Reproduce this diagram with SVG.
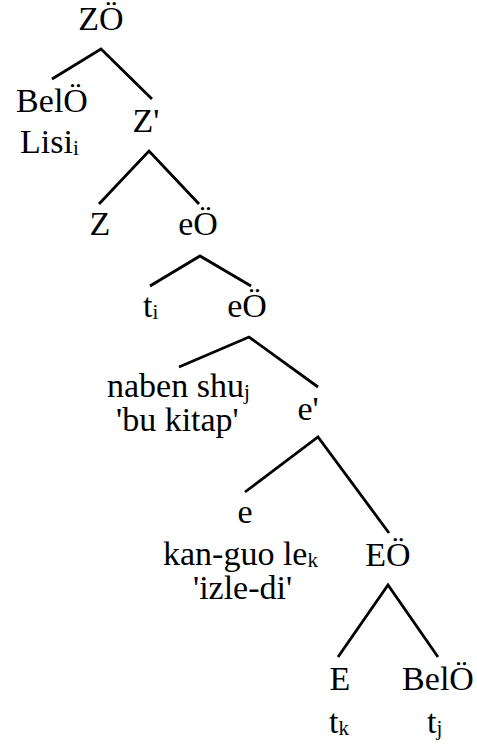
<svg xmlns="http://www.w3.org/2000/svg" width="477" height="744" viewBox="0 0 477 744" font-family="'Liberation Serif', 'DejaVu Serif', serif">
  <style>
    text { font-family: 'Liberation Serif', 'DejaVu Serif', serif; font-size: 34px; fill: #000; }
    .m { text-anchor: middle; }
    .sub { font-size: 21px; }
    .edge { fill: none; stroke: #000; stroke-width: 2.8; stroke-linejoin: miter; stroke-linecap: butt; }
  </style>
  <rect width="477" height="744" fill="#fff"/>

  <g id="connectors">
    <polyline class="edge" points="52,79 101,49 152,99"/>
    <polyline class="edge" points="99,204 149,151 199,204"/>
    <polyline class="edge" points="150,286 200,256 251,286"/>
    <polyline class="edge" points="179,367 249,337 318,387"/>
    <polyline class="edge" points="245,492 318,437 389,533"/>
    <polyline class="edge" points="338,657 388,585 438,657"/>
  </g>

  <g id="zo-root"><text class="m" x="101" y="30">ZÖ</text></g>
  <g id="belo-lisi">
    <text class="m" x="52" y="112">BelÖ</text>
    <text x="20" y="153">Lisi<tspan class="sub" dy="2">i</tspan></text>
  </g>
  <g id="z-bar"><text class="m" x="146" y="132">Z'</text></g>
  <g id="z-head"><text class="m" x="100" y="235">Z</text></g>
  <g id="eo-1"><text class="m" x="198" y="235">eÖ</text></g>
  <g id="t-i"><text x="143" y="317">t<tspan class="sub" dy="2">i</tspan></text></g>
  <g id="eo-2"><text class="m" x="247" y="317">eÖ</text></g>
  <g id="naben-shu">
    <text x="107" y="397">naben shu<tspan class="sub" dy="2">j</tspan></text>
    <text x="116" y="431">'bu kitap'</text>
  </g>
  <g id="e-bar"><text class="m" x="308" y="420">e'</text></g>
  <g id="e-head">
    <text class="m" x="245" y="523">e</text>
    <text x="163" y="565">kan-guo le<tspan class="sub" dy="2">k</tspan></text>
    <text x="193" y="599">'izle-di'</text>
  </g>
  <g id="eo-3"><text class="m" x="388" y="566">EÖ</text></g>
  <g id="e-trace">
    <text class="m" x="340" y="690">E</text>
    <text x="329" y="733">t<tspan class="sub" dy="2">k</tspan></text>
  </g>
  <g id="belo-trace">
    <text class="m" x="438" y="690">BelÖ</text>
    <text x="427" y="733">t<tspan class="sub" dy="2">j</tspan></text>
  </g>
</svg>
